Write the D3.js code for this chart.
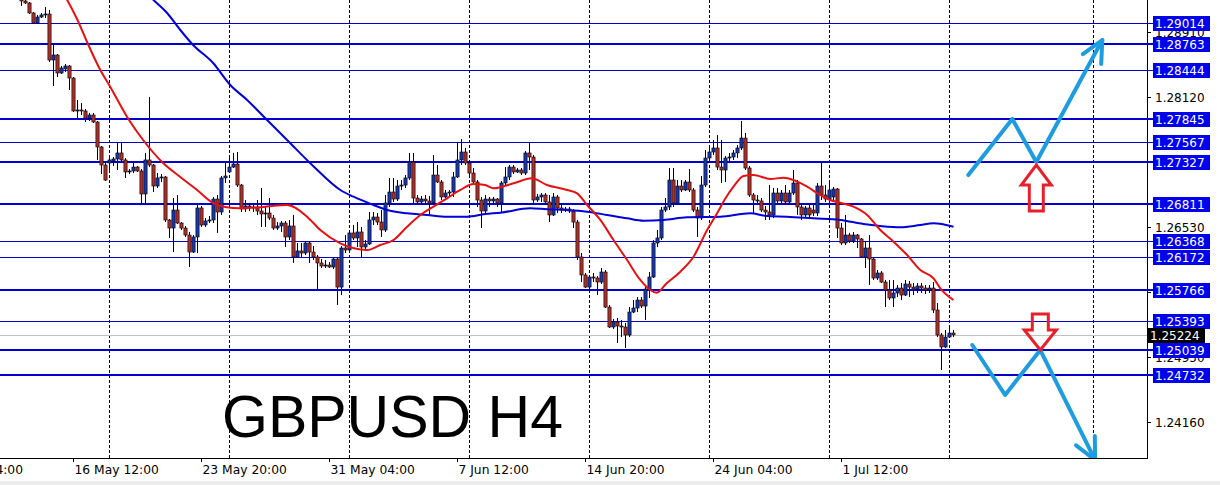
<!DOCTYPE html>
<html><head><meta charset="utf-8">
<script src="https://cdn.jsdelivr.net/npm/d3@7"></script>
<style>body{margin:0;background:#fff;overflow:hidden}svg{display:block}</style>
</head><body><svg id="c" width="1220" height="485"></svg>
<script>
// ---------- DATA (GBPUSD H4) ----------
const opens=[1.29346,1.29285,1.29261,1.29139,1.29017,1.29090,1.29115,1.29127,1.28567,1.28628,1.28409,1.28458,1.28494,1.28348,1.27947,1.27959,1.27947,1.27862,1.27898,1.27813,1.27509,1.27290,1.27314,1.27338,1.27363,1.27436,1.27351,1.27205,1.27217,1.27265,1.27217,1.26937,1.27351,1.27290,1.27034,1.27132,1.27144,1.26621,1.26523,1.26742,1.26584,1.26523,1.26438,1.26231,1.26414,1.26767,1.26560,1.26609,1.26621,1.26876,1.26718,1.27132,1.27205,1.27265,1.27302,1.27046,1.26755,1.26791,1.26767,1.26779,1.26730,1.26694,1.26706,1.26645,1.26523,1.26548,1.26584,1.26414,1.26548,1.26171,1.26244,1.26219,1.26341,1.26231,1.26171,1.26098,1.26061,1.26073,1.26049,1.26146,1.25805,1.26280,1.26256,1.26463,1.26402,1.26475,1.26292,1.26329,1.26621,1.26657,1.26596,1.26499,1.26828,1.26961,1.26876,1.27034,1.27046,1.27132,1.27326,1.26888,1.26840,1.26876,1.26852,1.26828,1.27168,1.27083,1.26901,1.26949,1.26961,1.27144,1.27351,1.27448,1.27314,1.27192,1.27083,1.26864,1.26730,1.26876,1.26852,1.26876,1.26828,1.27071,1.27144,1.27265,1.27205,1.27229,1.27192,1.27436,1.27387,1.26864,1.26901,1.26925,1.26840,1.26682,1.26901,1.26767,1.26742,1.26755,1.26730,1.26596,1.26171,1.25952,1.25805,1.25927,1.25915,1.25866,1.25988,1.25562,1.25319,1.25380,1.25331,1.25319,1.25222,1.25501,1.25550,1.25647,1.25574,1.25781,1.25927,1.26341,1.26402,1.26742,1.26779,1.27107,1.26828,1.27034,1.26986,1.27083,1.26986,1.26742,1.26645,1.27046,1.27375,1.27448,1.27497,1.27265,1.27229,1.27375,1.27387,1.27436,1.27497,1.27618,1.27253,1.26925,1.26864,1.26852,1.26742,1.26718,1.26682,1.26949,1.26852,1.26949,1.26840,1.26949,1.27071,1.26779,1.26682,1.26767,1.26742,1.26706,1.27034,1.26925,1.26876,1.26901,1.26998,1.26523,1.26341,1.26438,1.26365,1.26438,1.26390,1.26171,1.26280,1.26146,1.25915,1.25976,1.25866,1.25769,1.25672,1.25733,1.25793,1.25708,1.25842,1.25805,1.25781,1.25818,1.25793,1.25769,1.25793,1.25526,1.25222,1.25076,1.25197,1.25246];
const highs=[1.29394,1.29321,1.29273,1.29151,1.29115,1.29139,1.29212,1.29175,1.28774,1.28640,1.28494,1.28518,1.28506,1.28360,1.28081,1.28044,1.27971,1.27922,1.27922,1.27825,1.27521,1.27326,1.27375,1.27387,1.27557,1.27557,1.27375,1.27241,1.27314,1.27278,1.27241,1.27436,1.28117,1.27302,1.27192,1.27180,1.27156,1.26633,1.26888,1.26925,1.26596,1.26548,1.26475,1.26438,1.26803,1.26791,1.26645,1.26669,1.26901,1.26925,1.27156,1.27326,1.27387,1.27436,1.27448,1.27059,1.26864,1.26828,1.26803,1.26864,1.27010,1.26779,1.26888,1.26682,1.26596,1.26609,1.26609,1.26621,1.26682,1.26341,1.26341,1.26365,1.26365,1.26304,1.26195,1.26146,1.26134,1.26110,1.26158,1.26158,1.26304,1.26438,1.26499,1.26560,1.26596,1.26536,1.26377,1.26718,1.26718,1.26706,1.26742,1.26925,1.27132,1.27132,1.27107,1.27107,1.27168,1.27436,1.27436,1.26925,1.26913,1.26925,1.26913,1.27411,1.27290,1.27107,1.26986,1.26986,1.27205,1.27570,1.27606,1.27497,1.27351,1.27253,1.27107,1.26901,1.26925,1.26901,1.26901,1.26888,1.27095,1.27265,1.27290,1.27290,1.27253,1.27253,1.27460,1.27557,1.27411,1.26937,1.26949,1.26949,1.26925,1.26949,1.26925,1.26803,1.26779,1.26779,1.26755,1.26621,1.26219,1.25976,1.25952,1.25976,1.25939,1.26037,1.26012,1.25587,1.25416,1.25428,1.25404,1.25368,1.25562,1.25647,1.25684,1.25684,1.25805,1.25988,1.26377,1.26499,1.26779,1.26888,1.27253,1.27253,1.27107,1.27107,1.27107,1.27241,1.27010,1.26779,1.27156,1.27472,1.27509,1.27594,1.27655,1.27594,1.27399,1.27436,1.27472,1.27533,1.27825,1.27679,1.27278,1.26949,1.26925,1.26888,1.26791,1.27046,1.27010,1.27010,1.26986,1.27046,1.26986,1.27229,1.27107,1.26803,1.26791,1.26803,1.26803,1.27071,1.27314,1.27046,1.27071,1.27022,1.27010,1.26584,1.26682,1.26463,1.26475,1.26450,1.26402,1.26365,1.26438,1.26158,1.26012,1.26000,1.25891,1.25891,1.25891,1.25830,1.25854,1.25891,1.25879,1.25854,1.25854,1.25854,1.25830,1.25830,1.25866,1.25611,1.25246,1.25283,1.25319,1.25283];
const lows=[1.29224,1.29248,1.29127,1.29005,1.29005,1.29078,1.29078,1.28543,1.28251,1.28360,1.28397,1.28421,1.28202,1.27934,1.27862,1.27898,1.27813,1.27825,1.27801,1.27351,1.27180,1.27095,1.27192,1.27278,1.27229,1.27314,1.27132,1.27180,1.27192,1.27205,1.26828,1.26828,1.27265,1.26961,1.27010,1.27083,1.26596,1.26402,1.26231,1.26572,1.26499,1.26414,1.26049,1.26219,1.26219,1.26536,1.26536,1.26584,1.26584,1.26463,1.26682,1.27071,1.27192,1.27253,1.27022,1.26718,1.26718,1.26730,1.26718,1.26682,1.26536,1.26536,1.26621,1.26499,1.26499,1.26475,1.26292,1.26377,1.26098,1.26158,1.26171,1.26195,1.26098,1.26134,1.25781,1.26037,1.26037,1.26037,1.26025,1.25587,1.25708,1.26219,1.26219,1.26377,1.26292,1.26158,1.26256,1.26317,1.26560,1.26560,1.26414,1.26475,1.26779,1.26840,1.26852,1.26986,1.27010,1.27107,1.26828,1.26803,1.26815,1.26815,1.26682,1.26803,1.27071,1.26864,1.26888,1.26901,1.26901,1.27132,1.27290,1.27290,1.27168,1.27046,1.26779,1.26523,1.26706,1.26779,1.26803,1.26779,1.26718,1.27046,1.27107,1.27180,1.27192,1.27168,1.27168,1.27229,1.26828,1.26840,1.26840,1.26828,1.26596,1.26669,1.26706,1.26706,1.26718,1.26706,1.26523,1.26134,1.25866,1.25793,1.25769,1.25866,1.25708,1.25842,1.25550,1.25307,1.25295,1.25124,1.25197,1.25063,1.25197,1.25489,1.25501,1.25550,1.25404,1.25672,1.25915,1.26292,1.26377,1.26718,1.26742,1.26779,1.26803,1.26961,1.26973,1.26961,1.26718,1.26414,1.26621,1.27022,1.27314,1.27411,1.27229,1.27071,1.27083,1.27314,1.27351,1.27375,1.27472,1.27229,1.26901,1.26706,1.26828,1.26718,1.26621,1.26621,1.26645,1.26828,1.26828,1.26803,1.26803,1.26925,1.26682,1.26621,1.26645,1.26645,1.26669,1.26669,1.26864,1.26840,1.26840,1.26864,1.26402,1.26317,1.26317,1.26341,1.26341,1.26280,1.26158,1.26037,1.25830,1.25891,1.25891,1.25854,1.25562,1.25647,1.25562,1.25684,1.25647,1.25696,1.25684,1.25708,1.25733,1.25733,1.25720,1.25733,1.25489,1.25197,1.24796,1.25063,1.25185,1.25197];
const closes=[1.29285,1.29261,1.29139,1.29017,1.29090,1.29115,1.29127,1.28567,1.28628,1.28409,1.28470,1.28494,1.28348,1.27947,1.27959,1.27947,1.27862,1.27898,1.27813,1.27509,1.27290,1.27107,1.27351,1.27363,1.27436,1.27351,1.27205,1.27217,1.27265,1.27217,1.26937,1.27351,1.27290,1.27034,1.27132,1.27144,1.26621,1.26523,1.26742,1.26584,1.26523,1.26438,1.26231,1.26414,1.26767,1.26560,1.26609,1.26621,1.26876,1.26718,1.27132,1.27156,1.27265,1.27302,1.27046,1.26755,1.26791,1.26767,1.26779,1.26730,1.26694,1.26706,1.26645,1.26523,1.26548,1.26584,1.26414,1.26548,1.26171,1.26244,1.26219,1.26341,1.26231,1.26171,1.26098,1.26061,1.26073,1.26049,1.26146,1.25805,1.26280,1.26256,1.26463,1.26402,1.26475,1.26292,1.26329,1.26621,1.26657,1.26596,1.26499,1.26828,1.26961,1.26876,1.27034,1.27046,1.27132,1.27326,1.26888,1.26840,1.26876,1.26852,1.26828,1.27168,1.27083,1.26901,1.26949,1.26961,1.27144,1.27351,1.27448,1.27314,1.27192,1.27083,1.26864,1.26730,1.26876,1.26852,1.26876,1.26828,1.27071,1.27144,1.27265,1.27205,1.27229,1.27192,1.27436,1.27387,1.26864,1.26901,1.26925,1.26840,1.26682,1.26901,1.26767,1.26742,1.26755,1.26730,1.26596,1.26171,1.25952,1.25805,1.25927,1.25915,1.25866,1.25988,1.25562,1.25319,1.25380,1.25331,1.25319,1.25222,1.25501,1.25550,1.25647,1.25574,1.25781,1.25927,1.26341,1.26402,1.26742,1.26779,1.27107,1.26828,1.27034,1.26986,1.27083,1.26986,1.26742,1.26645,1.27046,1.27375,1.27448,1.27497,1.27265,1.27229,1.27375,1.27387,1.27436,1.27497,1.27618,1.27253,1.26925,1.26864,1.26852,1.26742,1.26718,1.26682,1.26949,1.26852,1.26949,1.26840,1.26949,1.27071,1.26779,1.26682,1.26767,1.26682,1.26706,1.27034,1.26925,1.26876,1.26986,1.26998,1.26523,1.26341,1.26438,1.26365,1.26438,1.26390,1.26171,1.26280,1.26146,1.25915,1.25976,1.25866,1.25769,1.25672,1.25733,1.25793,1.25708,1.25842,1.25805,1.25781,1.25818,1.25793,1.25769,1.25793,1.25526,1.25222,1.25076,1.25197,1.25246,1.25224];

// moving averages at these bar positions
const maFastBars=[10,14,16.5,19.7,22.2,26.4,30.4,35.4,39.7,43.9,47.9,50.9,54.7,60.4,66.4,71.4,74.7,79.7,83.1,86.4,89.7,93,96.4,99.7,103,106.4,109.7,113,115.9,118,123,127.6,131.4,136.4,138.9,141.4,144.7,148,151.4,154.7,157.2,158.8,161.3,164.7,168,171.4,173.9,176,178,180.5,183,187.2,190.5,193,196.4,199.7,202.2,204.7,208,211.4,214.7,218,221.4,224.7,228,229.7,233];
const maFastValues=[1.29419,1.29054,1.28774,1.28445,1.28239,1.27874,1.27594,1.27314,1.27144,1.26986,1.26828,1.26779,1.26763,1.26779,1.26803,1.26661,1.26499,1.26337,1.26276,1.26256,1.26317,1.26377,1.26539,1.26682,1.26783,1.26885,1.26986,1.27059,1.27046,1.27006,1.27067,1.27128,1.27046,1.26986,1.26945,1.26803,1.26621,1.26377,1.26134,1.25891,1.25769,1.25736,1.25851,1.25992,1.26174,1.26499,1.26702,1.26885,1.27026,1.27156,1.27168,1.27119,1.27135,1.27107,1.27026,1.26925,1.26864,1.26831,1.26783,1.26682,1.26499,1.26357,1.26195,1.26012,1.25911,1.25790,1.25647];
const maSlowBars=[31,33,36.4,39.7,42.9,47.9,52.2,56.4,61.4,67.2,73.1,79.7,83,88,91.4,96.4,101.4,106.4,111.4,115.9,119.7,127.2,131.4,136.4,141.4,146.4,151.4,155.5,160.5,166.4,174.7,182.2,186.4,191.4,198,204.7,210.5,214.7,219.7,224.7,228,233];
const maSlowValues=[1.29394,1.29297,1.29139,1.28932,1.28750,1.28531,1.28263,1.28081,1.27837,1.27554,1.27269,1.26986,1.26904,1.26803,1.26742,1.26702,1.26682,1.26661,1.26661,1.26694,1.26710,1.26763,1.26751,1.26742,1.26722,1.26682,1.26641,1.26612,1.26621,1.26654,1.26661,1.26702,1.26669,1.26661,1.26641,1.26621,1.26572,1.26548,1.26532,1.26560,1.26580,1.26539];

// horizontal levels
const levelPrices=[1.29014,1.28763,1.28444,1.27845,1.27567,1.27327,1.26811,1.26368,1.26172,1.25766,1.25393,1.25039,1.24732];
const levelMajor=[false,true,false,true,false,true,true,false,false,true,false,true,true];
const bidPrice=1.25224;
const priceTicks=[1.28910,1.28120,1.27325,1.26530,1.25740,1.24950,1.24160];

// time axis
const timeLabels=["9 May 04:00","16 May 12:00","23 May 20:00","31 May 04:00","7 Jun 12:00","14 Jun 20:00","24 Jun 04:00","1 Jul 12:00"];
const timeLabelBars=[-19,13,45,77,109,141,173,205];
const weekStartBars=[22,52,82,112,142,172,202,232,268];

// forecast annotations (bar, price)
const upPathBars=[236.7,247.7,253.7,270.2];
const upPathPrices=[1.27168,1.27850,1.27327,1.28810];
const downPathBars=[237.7,245.9,254.7,268.4];
const downPathPrices=[1.25100,1.24492,1.25039,1.23701];
const signalUpBar=253.7, signalUpPrice=1.27290;
const signalDownBar=254.7, signalDownPrice=1.25039;
const titleText="GBPUSD H4";

// ---------- DRAW ----------
const svg=d3.select('#c');
const plotR=1147, plotB=458;
const x=d3.scaleLinear().domain([0,1]).range([21.5,25.5]);
const y=d3.scaleLinear().domain([1.29297,1.29297-0.00012165*458]).range([0,458]);
const ry=p=>Math.round(y(p));

svg.append('rect').attr('width',1220).attr('height',485).attr('fill','#fff');
svg.append('defs').append('clipPath').attr('id','clip').append('rect').attr('x',0).attr('y',0).attr('width',plotR).attr('height',plotB);
const plot=svg.append('g').attr('clip-path','url(#clip)');

// weekly grid
plot.selectAll('line.grid').data(weekStartBars).join('line')
  .attr('x1',d=>x(d)).attr('x2',d=>x(d)).attr('y1',0).attr('y2',plotB)
  .attr('stroke','#000').attr('stroke-width',1).attr('stroke-dasharray','3,2');

// bid line
plot.append('line').attr('x1',0).attr('x2',plotR).attr('y1',ry(bidPrice)+0.5).attr('y2',ry(bidPrice)+0.5)
  .attr('stroke','#c0c0c0').attr('stroke-width',1);

// levels
plot.selectAll('line.lvl').data(levelPrices).join('line')
  .attr('x1',0).attr('x2',plotR)
  .attr('y1',(d,i)=>levelMajor[i]?ry(d):ry(d)+0.5)
  .attr('y2',(d,i)=>levelMajor[i]?ry(d):ry(d)+0.5)
  .attr('stroke','#0000c8').attr('stroke-width',(d,i)=>levelMajor[i]?2:1);

// candles
const candles=opens.map((o,i)=>({i,o,h:highs[i],l:lows[i],c:closes[i]}));
const cg=plot.append('g');
cg.selectAll('line.wick').data(candles).join('line')
  .attr('x1',d=>x(d.i)).attr('x2',d=>x(d.i))
  .attr('y1',d=>y(d.h)).attr('y2',d=>y(d.l))
  .attr('stroke','#000').attr('stroke-width',1);
cg.selectAll('rect.body').data(candles).join('rect')
  .attr('x',d=>x(d.i)-1.6).attr('width',3.2)
  .attr('y',d=>Math.min(y(d.o),y(d.c)))
  .attr('height',d=>Math.max(Math.abs(y(d.o)-y(d.c)),1))
  .attr('fill',d=>d.c>=d.o?'#1a36a8':'#a8302a')
  .attr('stroke','#000').attr('stroke-width',0.6);

// moving averages
const lineGen=d3.line().x(d=>x(d[0])).y(d=>y(d[1])).curve(d3.curveMonotoneX);
plot.append('path').datum(maSlowBars.map((b,i)=>[b,maSlowValues[i]]))
  .attr('d',lineGen).attr('fill','none').attr('stroke','#0000d8').attr('stroke-width',2);
plot.append('path').datum(maFastBars.map((b,i)=>[b,maFastValues[i]]))
  .attr('d',lineGen).attr('fill','none').attr('stroke','#e81010').attr('stroke-width',2);

// forecast zigzags
const arrowBlue='#1e9ce0';
function zigzag(bars,prices){
  const pts=bars.map((b,i)=>[x(b),y(prices[i])]);
  plot.append('path').attr('d',d3.line()(pts)).attr('fill','none')
    .attr('stroke',arrowBlue).attr('stroke-width',4).attr('stroke-linejoin','round').attr('stroke-linecap','round');
  const [x1,y1]=pts[pts.length-2],[x2,y2]=pts[pts.length-1];
  const a=Math.atan2(y2-y1,x2-x1), L=24, s=0.45;
  const head=[[x2-L*Math.cos(a-s),y2-L*Math.sin(a-s)],[x2,y2],[x2-L*Math.cos(a+s),y2-L*Math.sin(a+s)]];
  plot.append('path').attr('d',d3.line()(head)).attr('fill','none')
    .attr('stroke',arrowBlue).attr('stroke-width',4).attr('stroke-linejoin','round').attr('stroke-linecap','round');
}
zigzag(upPathBars,upPathPrices);
zigzag(downPathBars,downPathPrices);

// hollow red signal arrows
const redA='#e8202a';
const upShape=[[0,0],[15,20],[7,20],[7,46],[-7,46],[-7,20],[-15,20]];
const downShape=[[0,0],[16,-20],[8,-20],[8,-36],[-8,-36],[-8,-20],[-16,-20]];
function shapeAt(shape,bx,py){
  const cx=x(bx), cy=y(py);
  plot.append('path').attr('d',d3.line()(shape.map(p=>[cx+p[0],cy+p[1]]))+'Z')
    .attr('fill','none').attr('stroke',redA).attr('stroke-width',3).attr('stroke-linejoin','miter');
}
shapeAt(upShape,signalUpBar,signalUpPrice);
shapeAt(downShape,signalDownBar,signalDownPrice);

// title
plot.append('text').attr('x',222).attr('y',437).text(titleText)
  .attr('font-family','Liberation Sans, Arial, sans-serif').attr('font-size',59).attr('fill','#000');

// axes frame
svg.append('line').attr('x1',plotR+0.5).attr('x2',plotR+0.5).attr('y1',0).attr('y2',plotB+1).attr('stroke','#000');
svg.append('line').attr('x1',0).attr('x2',plotR+1).attr('y1',plotB+0.5).attr('y2',plotB+0.5).attr('stroke','#000');

const font='DejaVu Sans, sans-serif';
// price scale
const ps=svg.append('g');
ps.selectAll('line').data(priceTicks).join('line')
  .attr('x1',plotR).attr('x2',plotR+4).attr('y1',d=>ry(d)+0.5).attr('y2',d=>ry(d)+0.5).attr('stroke','#000');
ps.selectAll('text').data(priceTicks).join('text')
  .attr('x',plotR+8).attr('y',d=>ry(d)+4.5).text(d=>d.toFixed(5))
  .attr('font-family',font).attr('font-size',12).attr('fill','#000');

// level tags + bid tag (drawn in price order)
const tags=levelPrices.map((p,i)=>({p,bid:false})).concat([{p:bidPrice,bid:true}]).sort((a,b)=>b.p-a.p);
const tg=svg.append('g');
tags.forEach(t=>{
  const cy=ry(t.p);
  const x0=t.bid?plotR+1:plotR+6;
  tg.append('rect').attr('x',x0).attr('y',cy-7).attr('width',57).attr('height',15)
    .attr('fill',t.bid?'#000':'#0000ee');
  tg.append('text').attr('x',x0+2).attr('y',cy+5).text(t.p.toFixed(5))
    .attr('font-family',font).attr('font-size',12).attr('fill','#fff');
});
tg.selectAll('line').data(levelPrices).join('line')
  .attr('x1',plotR).attr('x2',plotR+6).attr('y1',(d,i)=>levelMajor[i]?ry(d):ry(d)+0.5).attr('y2',(d,i)=>levelMajor[i]?ry(d):ry(d)+0.5)
  .attr('stroke','#0000c8').attr('stroke-width',(d,i)=>levelMajor[i]?2:1);

// time axis
const ta=svg.append('g');
ta.selectAll('line').data(timeLabelBars).join('line')
  .attr('x1',d=>x(d)).attr('x2',d=>x(d)).attr('y1',plotB).attr('y2',plotB+4).attr('stroke','#000');
ta.selectAll('text').data(timeLabels).join('text')
  .attr('x',(d,i)=>x(timeLabelBars[i])+1).attr('y',474).text(d=>d)
  .attr('font-family',font).attr('font-size',12.3).attr('fill','#000');
svg.append('rect').attr('x',0).attr('y',481).attr('width',1220).attr('height',4).attr('fill','#ececec');
</script></body></html>
